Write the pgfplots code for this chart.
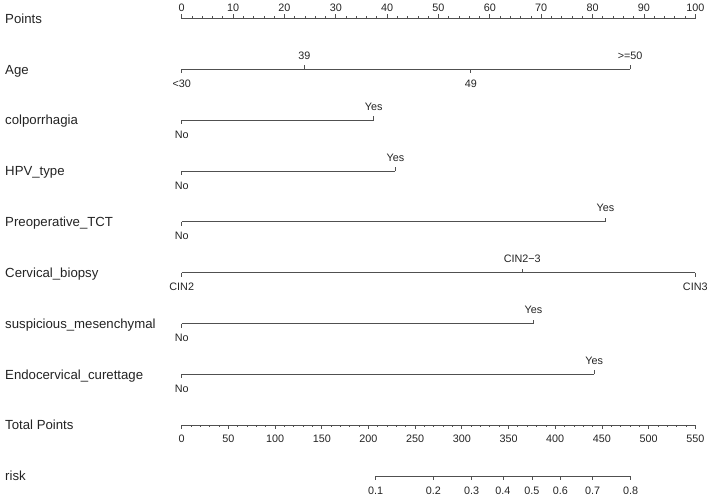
\documentclass[border=0pt]{standalone}
\usepackage{fontspec}
\setmainfont{Liberation Sans}
\usepackage{pgfplots}
\usepackage{pgfplotstable}
\pgfplotsset{compat=1.18}
\definecolor{nline}{RGB}{80,80,80}
\definecolor{ntext}{RGB}{35,35,35}

% variable names, x in points units, y = row of the scale
\pgfplotstableread[col sep=comma]{
x,y,label
-34.4,18.5,Points
-34.4,69.3,Age
-34.4,120.2,colporrhagia
-34.4,171,HPV\_type
-34.4,221.8,Preoperative\_TCT
-34.4,272.7,Cervical\_biopsy
-34.4,323.5,suspicious\_mesenchymal
-34.4,374.3,Endocervical\_curettage
-34.4,425.2,Total Points
-34.4,476,risk
}\names

% levels written above the scale
\pgfplotstableread[col sep=comma]{
x,y,label
23.9,69.3,39
87.3,69.3,>=50
37.4,120.2,Yes
41.6,171,Yes
82.5,221.8,Yes
66.3,272.7,CIN2−3
68.5,323.5,Yes
80.3,374.3,Yes
}\above

% levels written below the scale
\pgfplotstableread[col sep=comma]{
x,y,label
0,69.3,<30
56.3,69.3,49
0,120.2,No
0,171,No
0,221.8,No
0,272.7,CIN2
100,272.7,CIN3
0,323.5,No
0,374.3,No
}\below

% level ticks (v>0 down, v<0 up)
\pgfplotstableread{
x y v
0 69.3 4
23.9 69.3 -4
56.3 69.3 4
87.3 69.3 -4
0 120.2 4
37.4 120.2 -4
0 171 4
41.6 171 -4
0 221.8 4
82.5 221.8 -4
0 272.7 4
66.3 272.7 -4
100 272.7 4
0 323.5 4
68.5 323.5 -4
0 374.3 4
80.3 374.3 -4
}\levelticks

% risk scale, positions in total points
\pgfplotstableread{
tp y label
207.8 476 0.1
269.5 476 0.2
310.5 476 0.3
344 476 0.4
375 476 0.5
405.5 476 0.6
440 476 0.7
480.8 476 0.8
}\risk

\begin{document}
\begin{tikzpicture}
\begin{axis}[
  scale only axis, width=709pt, height=496pt,
  xmin=-35.38, xmax=102.67, ymin=0, ymax=496, y dir=reverse,
  axis lines=box, axis line style={draw=none}, xtick=\empty, ytick=\empty,
  clip=false,
  lbl/.style={only marks, mark=none, nodes near coords, point meta=explicit symbolic},
]
% scale lines
\addplot[nline, line width=0.85pt] coordinates {(0,18.5) (100,18.5)};
\addplot[nline, line width=0.85pt] coordinates {(0,69.3) (87.3,69.3)};
\addplot[nline, line width=0.85pt] coordinates {(0,120.2) (37.4,120.2)};
\addplot[nline, line width=0.85pt] coordinates {(0,171) (41.6,171)};
\addplot[nline, line width=0.85pt] coordinates {(0,221.8) (82.5,221.8)};
\addplot[nline, line width=0.85pt] coordinates {(0,272.7) (100,272.7)};
\addplot[nline, line width=0.85pt] coordinates {(0,323.5) (68.5,323.5)};
\addplot[nline, line width=0.85pt] coordinates {(0,374.3) (80.3,374.3)};
\addplot[nline, line width=0.85pt] coordinates {(0,425.2) (100,425.2)};
\addplot[nline, line width=0.85pt] table[x expr=\thisrow{tp}/5.5, y=y] {
tp y
207.8 476
480.8 476
};

% points ticks
\addplot[nline, line width=0.75pt, mark=none, quiver={u=0, v=\thisrow{v}}] table {
x y v
0 18.5 -4.3
10 18.5 -4.3
20 18.5 -4.3
30 18.5 -4.3
40 18.5 -4.3
50 18.5 -4.3
60 18.5 -4.3
70 18.5 -4.3
80 18.5 -4.3
90 18.5 -4.3
100 18.5 -4.3
};
\addplot[nline, line width=0.75pt, mark=none, quiver={u=0, v=\thisrow{v}}] table {
x y v
2 18.5 -2.4
4 18.5 -2.4
6 18.5 -2.4
8 18.5 -2.4
12 18.5 -2.4
14 18.5 -2.4
16 18.5 -2.4
18 18.5 -2.4
22 18.5 -2.4
24 18.5 -2.4
26 18.5 -2.4
28 18.5 -2.4
32 18.5 -2.4
34 18.5 -2.4
36 18.5 -2.4
38 18.5 -2.4
42 18.5 -2.4
44 18.5 -2.4
46 18.5 -2.4
48 18.5 -2.4
52 18.5 -2.4
54 18.5 -2.4
56 18.5 -2.4
58 18.5 -2.4
62 18.5 -2.4
64 18.5 -2.4
66 18.5 -2.4
68 18.5 -2.4
72 18.5 -2.4
74 18.5 -2.4
76 18.5 -2.4
78 18.5 -2.4
82 18.5 -2.4
84 18.5 -2.4
86 18.5 -2.4
88 18.5 -2.4
92 18.5 -2.4
94 18.5 -2.4
96 18.5 -2.4
98 18.5 -2.4
};

% total points ticks
\addplot[nline, line width=0.75pt, mark=none, quiver={u=0, v=\thisrow{v}}] table[x expr=\thisrow{tp}/5.5, y=y] {
tp y v
0 425.2 3.8
50 425.2 3.8
100 425.2 3.8
150 425.2 3.8
200 425.2 3.8
250 425.2 3.8
300 425.2 3.8
350 425.2 3.8
400 425.2 3.8
450 425.2 3.8
500 425.2 3.8
550 425.2 3.8
};
\addplot[nline, line width=0.75pt, mark=none, quiver={u=0, v=\thisrow{v}}] table[x expr=\thisrow{tp}/5.5, y=y] {
tp y v
10 425.2 2.2
20 425.2 2.2
30 425.2 2.2
40 425.2 2.2
60 425.2 2.2
70 425.2 2.2
80 425.2 2.2
90 425.2 2.2
110 425.2 2.2
120 425.2 2.2
130 425.2 2.2
140 425.2 2.2
160 425.2 2.2
170 425.2 2.2
180 425.2 2.2
190 425.2 2.2
210 425.2 2.2
220 425.2 2.2
230 425.2 2.2
240 425.2 2.2
260 425.2 2.2
270 425.2 2.2
280 425.2 2.2
290 425.2 2.2
310 425.2 2.2
320 425.2 2.2
330 425.2 2.2
340 425.2 2.2
360 425.2 2.2
370 425.2 2.2
380 425.2 2.2
390 425.2 2.2
410 425.2 2.2
420 425.2 2.2
430 425.2 2.2
440 425.2 2.2
460 425.2 2.2
470 425.2 2.2
480 425.2 2.2
490 425.2 2.2
510 425.2 2.2
520 425.2 2.2
530 425.2 2.2
540 425.2 2.2
};

% risk ticks
\addplot[nline, line width=0.75pt, mark=none, quiver={u=0, v=4}] table[x expr=\thisrow{tp}/5.5, y=y] {\risk};

% level ticks
\addplot[nline, line width=0.75pt, mark=none, quiver={u=0, v=\thisrow{v}}] table {\levelticks};

% text
\addplot[lbl, nodes near coords style={anchor=base west, yshift=-4.7pt, inner sep=0pt, text=ntext, font=\fontsize{13.2}{15}\selectfont}]
  table[x=x, y=y, meta=label] {\names};
\addplot[lbl, nodes near coords style={anchor=base, yshift=10pt, inner sep=0pt, text=ntext, font=\fontsize{10.8}{12}\selectfont}]
  table[x=x, y=y, meta=label] {\above};
\addplot[lbl, nodes near coords style={anchor=base, yshift=-18pt, inner sep=0pt, text=ntext, font=\fontsize{10.8}{12}\selectfont}]
  table[x=x, y=y, meta=label] {\below};
\addplot[lbl, nodes near coords style={anchor=base, yshift=7pt, inner sep=0pt, text=ntext, font=\fontsize{10.8}{12}\selectfont}]
  table[meta=label] {
x y label
0 18.5 0
10 18.5 10
20 18.5 20
30 18.5 30
40 18.5 40
50 18.5 50
60 18.5 60
70 18.5 70
80 18.5 80
90 18.5 90
100 18.5 100
};
\addplot[lbl, nodes near coords style={anchor=base, yshift=-17.5pt, inner sep=0pt, text=ntext, font=\fontsize{10.8}{12}\selectfont}]
  table[x expr=\thisrow{tp}/5.5, y=y, meta=label] {
tp y label
0 425.2 0
50 425.2 50
100 425.2 100
150 425.2 150
200 425.2 200
250 425.2 250
300 425.2 300
350 425.2 350
400 425.2 400
450 425.2 450
500 425.2 500
550 425.2 550
};
\addplot[lbl, nodes near coords style={anchor=base, yshift=-18.5pt, inner sep=0pt, text=ntext, font=\fontsize{10.8}{12}\selectfont}]
  table[x expr=\thisrow{tp}/5.5, y=y, meta=label] {\risk};
\end{axis}
\end{tikzpicture}
\end{document}
